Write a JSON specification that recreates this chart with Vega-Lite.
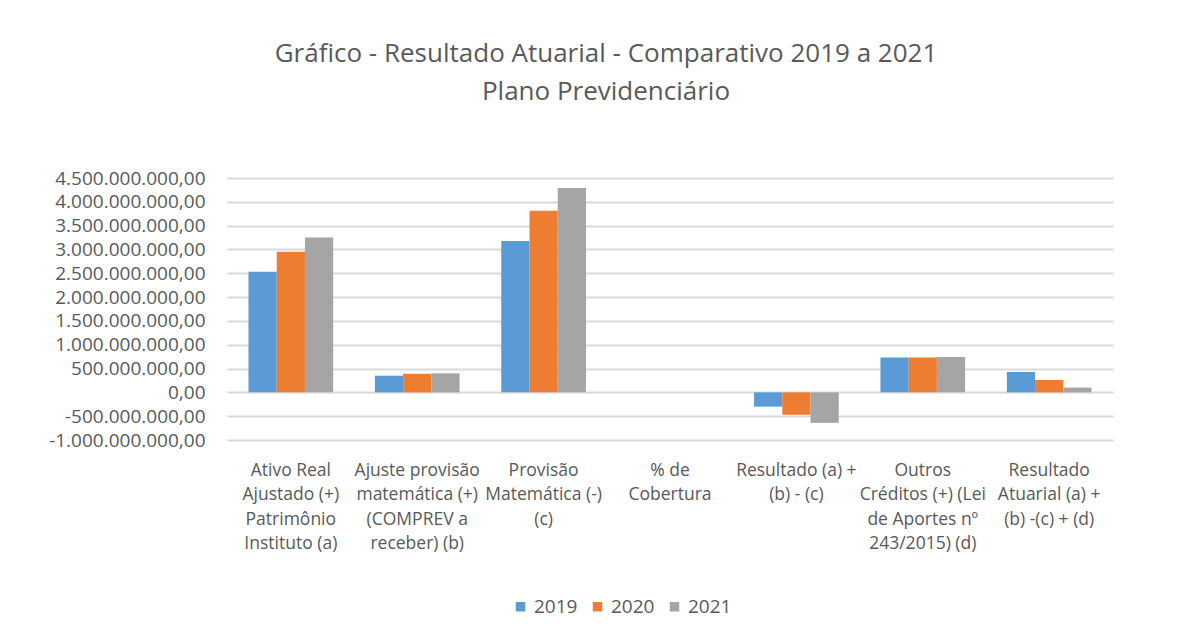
{
  "$schema": "https://vega.github.io/schema/vega-lite/v6.json",
  "width": 886,
  "height": 262,
  "autosize": {"type": "none"},
  "padding": {"left": 227, "top": 178, "right": 76, "bottom": 198},
  "background": "white",
  "title": {
    "text": ["Gráfico - Resultado Atuarial - Comparativo 2019 a 2021", "Plano Previdenciário"],
    "font": "Open Sans",
    "fontSize": 26,
    "fontWeight": "normal",
    "color": "#595959",
    "lineHeight": 38,
    "anchor": "middle",
    "dx": -64,
    "offset": 64
  },
  "config": {
    "locale": {"number": {"decimal": ",", "thousands": ".", "grouping": [3], "currency": ["R$ ", ""], "minus": "-"}},
    "view": {"stroke": null},
    "font": "Open Sans",
    "axis": {"labelFont": "Open Sans", "labelColor": "#595959", "domain": false, "ticks": false}
  },
  "data": {
    "values": [
      {"cat": "Ativo Real|Ajustado (+)|Patrimônio|Instituto (a)", "year": "2019", "value": 2530000000},
      {"cat": "Ativo Real|Ajustado (+)|Patrimônio|Instituto (a)", "year": "2020", "value": 2950000000},
      {"cat": "Ativo Real|Ajustado (+)|Patrimônio|Instituto (a)", "year": "2021", "value": 3250000000},
      {"cat": "Ajuste provisão|matemática (+)|(COMPREV a|receber) (b)", "year": "2019", "value": 350000000},
      {"cat": "Ajuste provisão|matemática (+)|(COMPREV a|receber) (b)", "year": "2020", "value": 390000000},
      {"cat": "Ajuste provisão|matemática (+)|(COMPREV a|receber) (b)", "year": "2021", "value": 400000000},
      {"cat": "Provisão|Matemática (-)|(c)", "year": "2019", "value": 3180000000},
      {"cat": "Provisão|Matemática (-)|(c)", "year": "2020", "value": 3810000000},
      {"cat": "Provisão|Matemática (-)|(c)", "year": "2021", "value": 4290000000},
      {"cat": "% de|Cobertura", "year": "2019", "value": 0.91},
      {"cat": "% de|Cobertura", "year": "2020", "value": 0.88},
      {"cat": "% de|Cobertura", "year": "2021", "value": 0.85},
      {"cat": "Resultado (a) +|(b) - (c)", "year": "2019", "value": -300000000},
      {"cat": "Resultado (a) +|(b) - (c)", "year": "2020", "value": -470000000},
      {"cat": "Resultado (a) +|(b) - (c)", "year": "2021", "value": -640000000},
      {"cat": "Outros|Créditos (+) (Lei|de Aportes nº|243/2015) (d)", "year": "2019", "value": 730000000},
      {"cat": "Outros|Créditos (+) (Lei|de Aportes nº|243/2015) (d)", "year": "2020", "value": 730000000},
      {"cat": "Outros|Créditos (+) (Lei|de Aportes nº|243/2015) (d)", "year": "2021", "value": 740000000},
      {"cat": "Resultado|Atuarial (a) +|(b) -(c) + (d)", "year": "2019", "value": 430000000},
      {"cat": "Resultado|Atuarial (a) +|(b) -(c) + (d)", "year": "2020", "value": 260000000},
      {"cat": "Resultado|Atuarial (a) +|(b) -(c) + (d)", "year": "2021", "value": 100000000}
    ]
  },
  "mark": {"type": "bar"},
  "encoding": {
    "x": {
      "field": "cat",
      "type": "nominal",
      "sort": null,
      "scale": {"paddingInner": 0.33, "paddingOuter": 0.17},
      "axis": {
        "title": null,
        "labelAngle": 0,
        "labelExpr": "split(datum.label, '|')",
        "labelFontSize": 17.5,
        "labelLineHeight": 24.5,
        "labelPadding": 21,
        "labelBaseline": "top",
        "labelLimit": 200
      }
    },
    "xOffset": {"field": "year", "type": "nominal"},
    "y": {
      "field": "value",
      "type": "quantitative",
      "scale": {"domain": [-1000000000, 4500000000], "nice": false, "zero": true},
      "axis": {
        "title": null,
        "values": [-1000000000, -500000000, 0, 500000000, 1000000000, 1500000000, 2000000000, 2500000000, 3000000000, 3500000000, 4000000000, 4500000000],
        "format": ",.2f",
        "labelFontSize": 19,
        "labelPadding": 22,
        "gridColor": "#d9d9d9",
        "gridWidth": 2
      }
    },
    "color": {
      "field": "year",
      "type": "nominal",
      "scale": {"domain": ["2019", "2020", "2021"], "range": ["#5b9bd5", "#ed7d31", "#a5a5a5"]},
      "legend": {
        "title": null,
        "orient": "none",
        "direction": "horizontal",
        "legendX": 284,
        "legendY": 419,
        "symbolType": "square",
        "symbolSize": 90,
        "symbolStrokeWidth": 0,
        "labelFontSize": 19,
        "labelColor": "#595959",
        "labelFont": "Open Sans",
        "columnPadding": 10,
        "labelOffset": 4
      }
    }
  }
}
